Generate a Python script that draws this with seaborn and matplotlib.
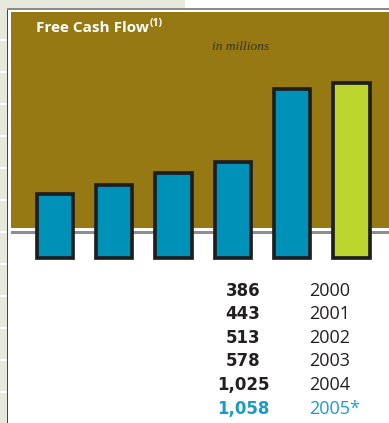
import matplotlib
matplotlib.use("Agg")
import matplotlib.pyplot as plt
from matplotlib.patches import Rectangle
import seaborn as sns
import pandas as pd

# ---- data ----
years = ["2000", "2001", "2002", "2003", "2004", "2005*"]
values = [386, 443, 513, 578, 1025, 1058]
value_labels = ["386", "443", "513", "578", "1,025", "1,058"]
bar_colors = ["#0091b9", "#0091b9", "#0091b9", "#0091b9", "#0091b9", "#bdd52f"]
text_colors = ["#231f20", "#231f20", "#231f20", "#231f20", "#231f20", "#1b9bc8"]
title = "Free Cash Flow"
title_note = "(1)"
unit_label = "in millions"

W, H = 389, 423
DPI = 100
sns.set_theme(style="white")
plt.rcParams["font.family"] = ["Open Sans", "DejaVu Sans"]

fig = plt.figure(figsize=(W / DPI, H / DPI), dpi=DPI)
fig.patch.set_facecolor("white")

# background axes in pixel coordinates
bg = fig.add_axes([0, 0, 1, 1])
bg.set_xlim(0, W)
bg.set_ylim(H, 0)
bg.axis("off")

beige = "#e8e9dd"
bg.add_patch(Rectangle((0, 0), 7, H, color=beige, lw=0))
bg.add_patch(Rectangle((0, 0), 185, 8.5, color=beige, lw=0))
for yy in range(40, H, 32):
    bg.add_patch(Rectangle((0, yy - 0.8), 7, 1.6, color="white", lw=0))
bg.add_patch(Rectangle((7, 8.5), 1.4, H, color="#444444", lw=0))
bg.add_patch(Rectangle((7, 8.5), W, 1.4, color="#8a8a8a", lw=0))
olive = "#977914"
bg.add_patch(Rectangle((11, 12.5), W, 215.5, color=olive, lw=0))
bg.add_patch(Rectangle((11, 231.5), W, 2.5, color="#8e8e8e", lw=0))

t = bg.text(36, 32, title, color="white", fontsize=11, fontweight="bold",
            va="baseline", ha="left")
bg.annotate(title_note, xy=(1, 1), xycoords=t, xytext=(0.5, 2.5),
            textcoords="offset points", color="white", fontsize=7.5,
            fontweight="bold", va="top", ha="left")
bg.text(240.5, 50, unit_label, color="#35301e", fontsize=9.6, fontstyle="italic",
        family=["Liberation Serif"], ha="center", va="baseline")

# bar axes
k = 0.1645          # px per unit
y0_px = 257.5       # baseline pixel
ylo, yhi = -30, 1100
left_px = 25.2
right_px = left_px + 6 * 59.33
bottom_px = y0_px - ylo * k
top_px = y0_px - yhi * k
ax = fig.add_axes([left_px / W, 1 - bottom_px / H,
                   (right_px - left_px) / W, (bottom_px - top_px) / H])
df = pd.DataFrame({"year": years, "value": values})
sns.barplot(data=df, x="year", y="value", hue="year", palette=bar_colors,
            width=0.617, edgecolor="#1e1e1e", linewidth=2.66,
            legend=False, ax=ax, saturation=1)
ax.set_xlim(-0.5, 5.5)
ax.set_ylim(ylo, yhi)
ax.axis("off")
ax.patch.set_visible(False)

# value table
row0, row_step = 290.7, 23.6
for i, (lab, yr, c) in enumerate(zip(value_labels, years, text_colors)):
    y = row0 + i * row_step
    bg.text(243, y, lab, color=c, fontsize=12, fontweight="bold",
            family=["DejaVu Sans"], ha="center", va="center")
    bg.text(309, y, yr, color=c, fontsize=13, ha="left", va="center")

fig.savefig("out.png", dpi=DPI)
